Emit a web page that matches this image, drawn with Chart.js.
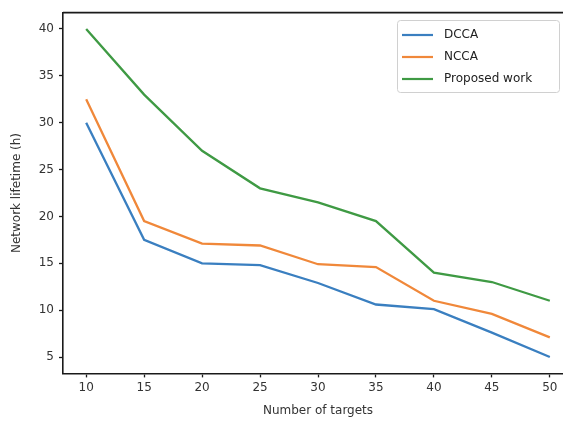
<!DOCTYPE html>
<html>
<head>
<meta charset="utf-8">
<script src="https://cdn.jsdelivr.net/npm/chart.js@4"></script>
<style>
  html, body { margin: 0; padding: 0; background: #fff; overflow: hidden; }
  #wrap { width: 563px; height: 423px; overflow: hidden; }
</style>
</head>
<body>
<div id="wrap"><canvas id="my-chart" width="600" height="423"></canvas></div>
<script>
// data
const targets = [10, 15, 20, 25, 30, 35, 40, 45, 50]
const dcca = [30, 17.5, 15, 14.8, 12.9, 10.6, 10.1, 7.6, 5]
const ncca = [32.5, 19.5, 17.1, 16.9, 14.9, 14.6, 11, 9.6, 7.1]
const proposed = [40, 33, 27, 23, 21.5, 19.5, 14, 13, 11]
const xTicks = [10, 15, 20, 25, 30, 35, 40, 45, 50]
const yTicks = [5, 10, 15, 20, 25, 30, 35, 40]

const toPoints = (ys) => targets.map((x, i) => ({ x: x, y: ys[i] }))

let ctx = document.getElementById('my-chart').getContext('2d')

const tickFont = { family: 'DejaVu Sans', size: 12 }
const axisColor = '#1a1a1a'

// frame on top + legend box in the upper right, like matplotlib
const framePlugin = {
  id: 'frame',
  afterDraw: (chart) => {
    const { ctx, chartArea } = chart
    ctx.save()
    ctx.strokeStyle = axisColor
    ctx.lineWidth = 1.6
    ctx.beginPath()
    ctx.moveTo(chartArea.left, chartArea.top)
    ctx.lineTo(chartArea.right, chartArea.top)
    ctx.stroke()

    // legend
    const bx = 397, by = 20, bw = 162, bh = 72
    ctx.fillStyle = 'rgba(255,255,255,0.9)'
    ctx.strokeStyle = '#d0d0d0'
    ctx.lineWidth = 1
    ctx.beginPath()
    ctx.roundRect(bx + 0.5, by + 0.5, bw, bh, 3)
    ctx.fill()
    ctx.stroke()
    ctx.font = '12px "DejaVu Sans"'
    ctx.textBaseline = 'middle'
    chart.data.datasets.forEach((ds, i) => {
      const y = by + 15 + i * 22
      ctx.strokeStyle = ds.borderColor
      ctx.lineWidth = 2.2
      ctx.beginPath()
      ctx.moveTo(bx + 5, y)
      ctx.lineTo(bx + 36, y)
      ctx.stroke()
      ctx.fillStyle = '#222'
      ctx.fillText(ds.label, bx + 47, y)
    })
    ctx.restore()
  }
}

const data = {
  datasets: [
    { label: 'DCCA', data: toPoints(dcca), borderColor: '#3a7fc0' },
    { label: 'NCCA', data: toPoints(ncca), borderColor: '#f0883a' },
    { label: 'Proposed work', data: toPoints(proposed), borderColor: '#3f9a44' },
  ].map(d => Object.assign(d, { borderWidth: 2.3, pointRadius: 0, tension: 0, fill: false }))
}

const options = {
  responsive: false,
  animation: false,
  layout: { padding: { top: 12.6, right: 27, left: 0, bottom: 0 } },
  plugins: { legend: { display: false }, tooltip: { enabled: false } },
  scales: {
    x: {
      type: 'linear',
      min: 8,
      max: 52,
      afterBuildTicks: (s) => { s.ticks = xTicks.map(v => ({ value: v })) },
      afterFit: (s) => { s.height = 49.6 },
      border: { display: true, color: axisColor, width: 1.6 },
      grid: { drawOnChartArea: false, drawTicks: true, tickLength: 4, color: axisColor, tickWidth: 1.3 },
      ticks: { font: tickFont, color: '#333', padding: 3, maxRotation: 0 },
      title: { display: true, text: 'Number of targets', font: tickFont, color: '#333', padding: { top: 0, bottom: 5 } }
    },
    y: {
      type: 'linear',
      min: 3.25,
      max: 41.75,
      afterBuildTicks: (s) => { s.ticks = yTicks.map(v => ({ value: v })) },
      afterFit: (s) => { s.width = 63 },
      border: { display: true, color: axisColor, width: 1.6 },
      grid: { drawOnChartArea: false, drawTicks: true, tickLength: 4, color: axisColor, tickWidth: 1.3 },
      ticks: { font: tickFont, color: '#333', padding: 5 },
      title: { display: true, text: 'Network lifetime (h)', font: tickFont, color: '#333', padding: { top: 10, bottom: 0 } }
    }
  }
}

const config = {
  type: 'line',
  data: data,
  options: options,
  plugins: [framePlugin]
}

const myChart = new Chart(ctx, config)
</script>
</body>
</html>
